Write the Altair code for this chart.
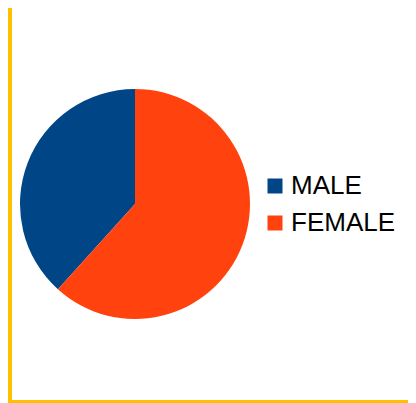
import altair as alt
import pandas as pd

categories = ["MALE", "FEMALE"]
values = [38.3, 61.7]
slice_order = [2, 1]
colors = ["#004586", "#FF420E"]

df = pd.DataFrame({"gender": categories, "share": values, "ord": slice_order})

panel = (
    alt.Chart(pd.DataFrame({"k": [0]}))
    .mark_rect(color="white")
    .encode(x=alt.value(0), x2=alt.value(396), y=alt.value(0), y2=alt.value(392))
)

pie = (
    alt.Chart(df)
    .mark_arc(radius=115, x=123, y=196, stroke=None)
    .encode(
        theta=alt.Theta("share:Q", stack=True),
        order=alt.Order("ord:Q"),
        color=alt.Color(
            "gender:N",
            scale=alt.Scale(domain=categories, range=colors),
            legend=alt.Legend(
                title=None,
                orient="none",
                legendX=250,
                legendY=165,
                symbolType="square",
                symbolSize=225,
                symbolStrokeWidth=0,
                labelFontSize=26,
                labelFont="Liberation Sans",
                labelColor="#000000",
                labelOffset=3,
                rowPadding=11,
                padding=0,
            ),
        ),
    )
)

chart = (
    alt.layer(panel, pie)
    .properties(
        width=396,
        height=392,
        background="#FFC000",
        padding={"left": 4, "top": 0, "right": 0, "bottom": 3},
        autosize=alt.AutoSizeParams(type="none"),
    )
    .configure_view(stroke=None)
)

chart.save("out.html", embed_options={"renderer": "svg", "actions": False})
